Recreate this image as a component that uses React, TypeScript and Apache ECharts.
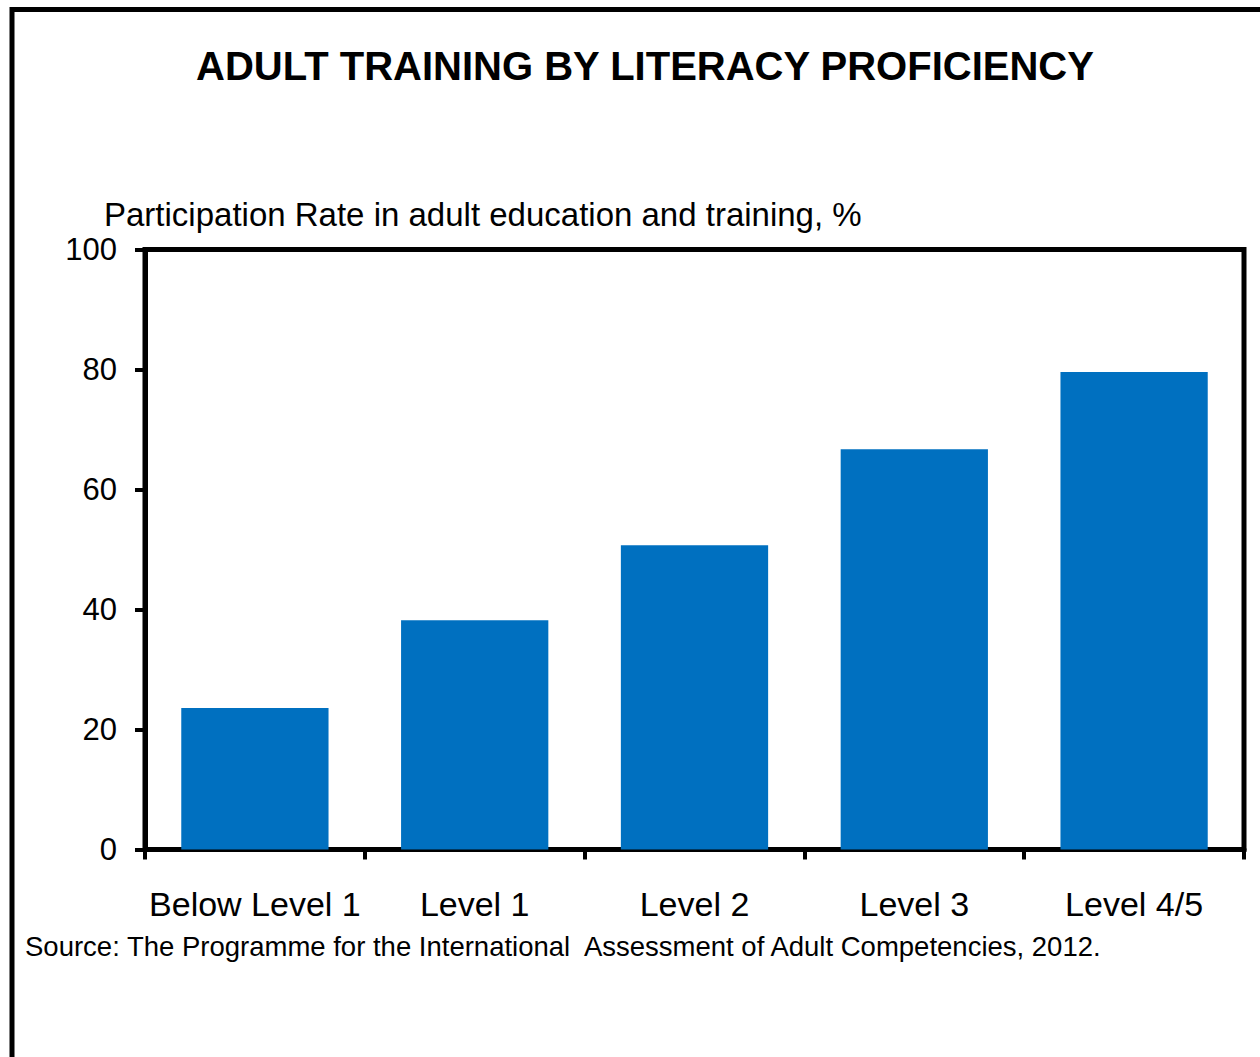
import React, { useEffect, useRef } from "react";
import * as echarts from "echarts";

const categories = ["Below Level 1", "Level 1", "Level 2", "Level 3", "Level 4/5"];
const participationRate = [23.6, 38.2, 50.7, 66.7, 79.6];
const yTicks = { min: 0, max: 100, interval: 20 };

const titleText = "ADULT TRAINING BY LITERACY PROFICIENCY";
const axisNameText = "Participation Rate in adult education and training, %";
const sourceText = "Source: The Programme for the International  Assessment of Adult Competencies, 2012.";

const FONT = "'Liberation Sans', Arial, sans-serif";

export default function App() {
  const ref = useRef<HTMLDivElement>(null);
  useEffect(() => {
    if (!ref.current) return;
    const chart = echarts.init(ref.current, null, { renderer: "svg" });
    chart.setOption({
      animation: false,
      backgroundColor: "#ffffff",
      textStyle: { fontFamily: FONT, color: "#000" },
      grid: {
        show: true,
        left: 145,
        right: 16,
        top: 249.5,
        bottom: 207.5,
        borderColor: "#000",
        borderWidth: 5,
        backgroundColor: "transparent",
      },
      xAxis: {
        type: "category",
        data: categories,
        axisLine: { lineStyle: { color: "#000", width: 5 } },
        axisTick: { show: true, alignWithLabel: false, length: 10, lineStyle: { color: "#000", width: 4 } },
        axisLabel: { fontSize: 34, color: "#000", margin: 37, fontFamily: FONT, interval: 0 },
      },
      yAxis: {
        type: "value",
        min: yTicks.min,
        max: yTicks.max,
        interval: yTicks.interval,
        axisLine: { show: true, lineStyle: { color: "#000", width: 5 } },
        axisTick: { show: true, length: 10, lineStyle: { color: "#000", width: 4 } },
        splitLine: { show: false },
        axisLabel: { fontSize: 31, color: "#000", margin: 28, fontFamily: FONT },
      },
      series: [
        {
          type: "bar",
          data: participationRate,
          barCategoryGap: "33%",
          itemStyle: { color: "#0070C0" },
        },
      ],
      graphic: [
        {
          type: "rect",
          shape: { x: 12, y: 9.5, width: 1400, height: 1200 },
          style: { fill: "none", stroke: "#000", lineWidth: 5 },
          silent: true,
          z: 100,
        },
        {
          type: "text",
          x: 645,
          y: 66,
          style: {
            text: titleText,
            fontSize: 40,
            fontWeight: "bold",
            fontFamily: FONT,
            fill: "#000",
            textAlign: "center",
            textVerticalAlign: "middle",
          },
        },
        {
          type: "text",
          x: 104,
          y: 214,
          style: {
            text: axisNameText,
            fontSize: 33,
            fontFamily: FONT,
            fill: "#000",
            textAlign: "left",
            textVerticalAlign: "middle",
          },
        },
        {
          type: "text",
          x: 25,
          y: 946,
          style: {
            text: sourceText,
            fontSize: 27.5,
            fontFamily: FONT,
            fill: "#000",
            textAlign: "left",
            textVerticalAlign: "middle",
          },
        },
      ],
    });
    return () => chart.dispose();
  }, []);
  return (
    <div
      ref={ref}
      style={{ position: "absolute", left: 0, top: 0, width: 1260, height: 1057 }}
    />
  );
}
